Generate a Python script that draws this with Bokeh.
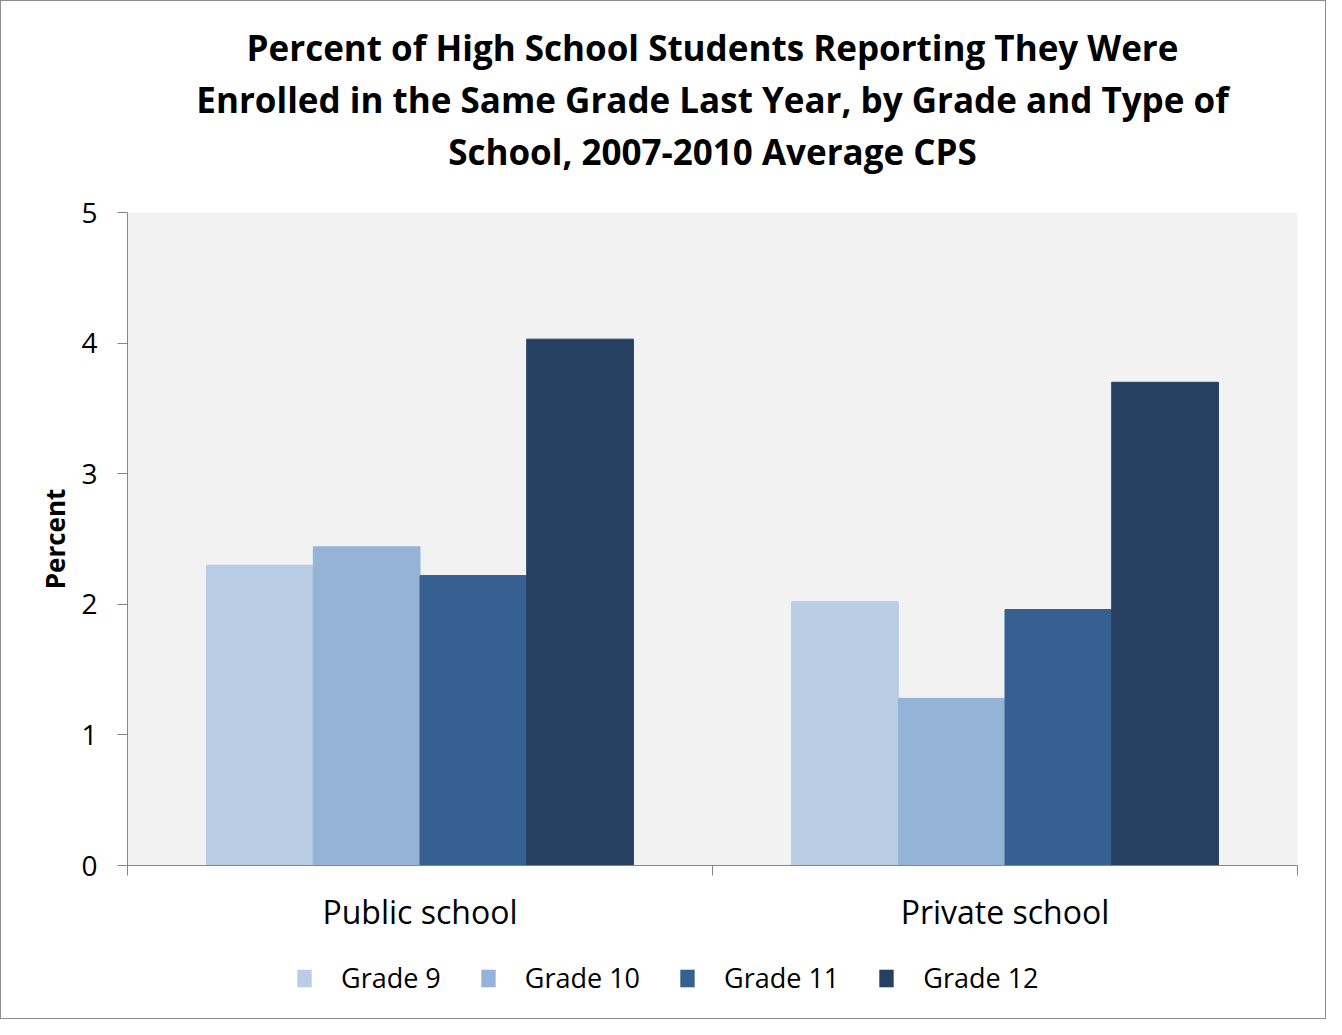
from bokeh.plotting import figure
from bokeh.layouts import column
from bokeh.models import ColumnDataSource, FixedTicker, Title, Legend, LegendItem, Range1d
from bokeh.transform import dodge
from bokeh.embed import file_html
from bokeh.resources import INLINE

# ---- data ----
schools = ["Public school", "Private school"]
grades = ["Grade 9", "Grade 10", "Grade 11", "Grade 12"]
grade9 = [2.30, 2.02]
grade10 = [2.44, 1.28]
grade11 = [2.22, 1.96]
grade12 = [4.03, 3.70]
colors = ["#B9CDE5", "#95B3D7", "#376092", "#254061"]
title_lines = [
    "Percent of High School Students Reporting They Were",
    "Enrolled in the Same Grade Last Year, by Grade and Type of",
    "School, 2007-2010 Average CPS",
]
y_ticks = [0, 1, 2, 3, 4, 5]

FONT = "Open Sans"
W = 1324

centers = [i + 0.5 for i in range(len(schools))]
src = ColumnDataSource(dict(x=centers, g9=grade9, g10=grade10, g11=grade11, g12=grade12))

p = figure(width=W, height=945, output_backend="svg", toolbar_location=None,
           x_range=Range1d(0, len(schools)), y_range=Range1d(0, 5),
           min_border_left=126, min_border_right=28, min_border_top=211, min_border_bottom=81)

p.background_fill_color = "#F2F2F2"
p.border_fill_color = "white"
p.outline_line_color = None
p.xgrid.visible = False
p.ygrid.visible = False

bw = 0.1824
fields = ["g9", "g10", "g11", "g12"]
offsets = [-1.5 * bw, -0.5 * bw, 0.5 * bw, 1.5 * bw]
for f, off, c in zip(fields, offsets, colors):
    p.vbar(x=dodge("x", off), top=f, width=bw, bottom=0, source=src,
           fill_color=c, line_color=c, line_width=1)

# spacer between title block and plot area
p.add_layout(Title(text=" ", text_font=FONT, text_font_size="25px", standoff=0), "above")
# titles (added bottom-up)
for line in reversed(title_lines):
    t = Title(text=line, align="center", text_font=FONT, text_font_size="35px",
              text_font_style="bold", text_color="black", standoff=3, offset=0)
    p.add_layout(t, "above")

# y axis
ya = p.yaxis[0]
ya.ticker = FixedTicker(ticks=y_ticks)
ya.axis_line_color = "#868686"
ya.major_tick_line_color = "#868686"
ya.major_tick_out = 10
ya.major_tick_in = 0
ya.minor_tick_line_color = None
ya.major_label_text_font = FONT
ya.major_label_text_font_size = "28px"
ya.major_label_text_color = "black"
ya.major_label_standoff = 20
ya.axis_label = "Percent"
ya.axis_label_text_font = FONT
ya.axis_label_text_font_size = "26px"
ya.axis_label_text_font_style = "bold"
ya.axis_label_text_color = "black"
ya.axis_label_standoff = 5

# x axis
xa = p.xaxis[0]
xa.ticker = FixedTicker(ticks=centers, minor_ticks=[0, 1, 2])
xa.major_label_overrides = {c: s for c, s in zip(centers, schools)}
xa.axis_line_color = "#868686"
xa.major_tick_line_color = None
xa.major_tick_out = 0
xa.major_tick_in = 0
xa.minor_tick_line_color = "#868686"
xa.minor_tick_out = 10
xa.minor_tick_in = 0
xa.major_label_text_font = FONT
xa.major_label_text_font_size = "32px"
xa.major_label_text_color = "black"
xa.major_label_standoff = 14

# legend strip below the chart (swatch renderers have zero height and sit outside the visible range)
lf = figure(width=W, height=72, output_backend="svg", toolbar_location=None,
            x_range=Range1d(0, 1), y_range=Range1d(0, 1),
            x_axis_location=None, y_axis_location=None,
            min_border_left=0, min_border_right=0, min_border_top=0, min_border_bottom=10)
lf.outline_line_color = None
lf.xgrid.visible = False
lf.ygrid.visible = False
lf.background_fill_color = "white"
lf.border_fill_color = "white"
items = []
for g, c in zip(grades, colors):
    r = lf.vbar(x=[10], top=[0], bottom=[0], width=0.1, fill_color=c, line_color=None)
    items.append(LegendItem(label=g, renderers=[r]))
legend = Legend(items=items, orientation="horizontal", location=(168, 12),
                label_text_font=FONT, label_text_font_size="27px", label_text_color="black",
                glyph_width=18, glyph_height=22, label_standoff=28, spacing=38,
                border_line_color=None, background_fill_alpha=0, padding=0, margin=0)
lf.add_layout(legend, "center")

layout = column(p, lf, spacing=0)
layout.styles = {"border": "1px solid #8C8C8C"}

open("out.html", "w").write(file_html(layout, INLINE))
